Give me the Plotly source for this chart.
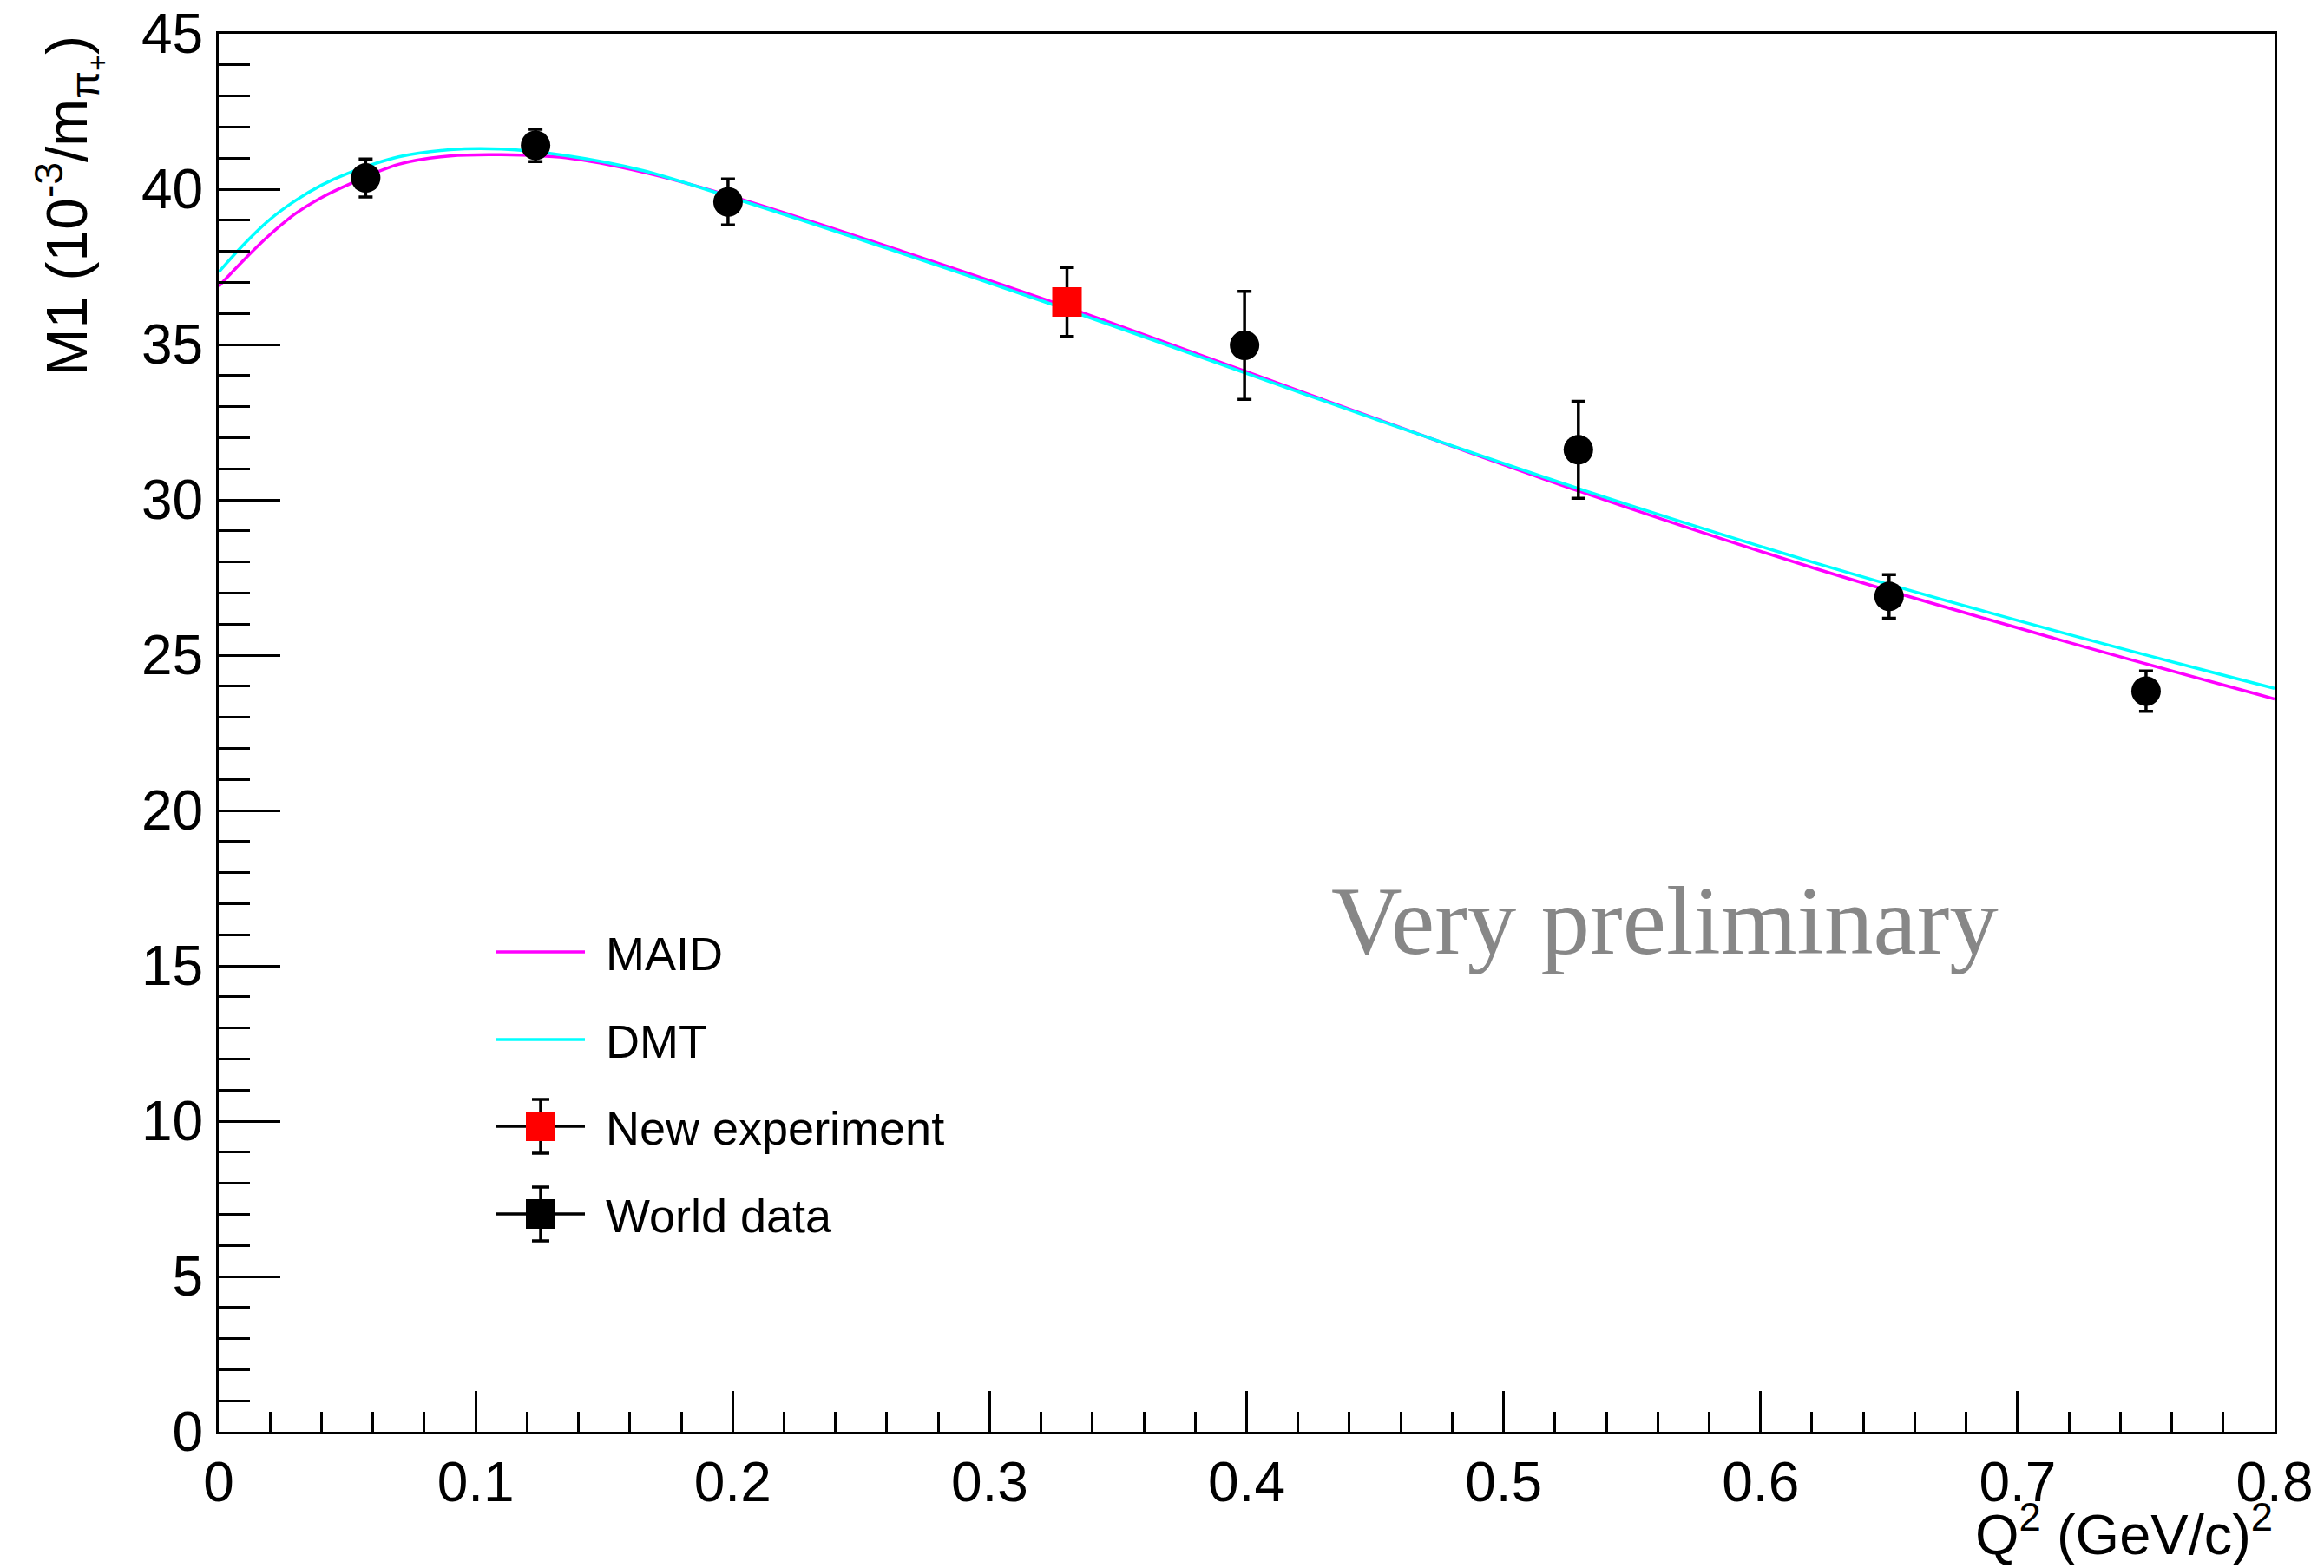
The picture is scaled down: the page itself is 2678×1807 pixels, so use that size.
import plotly.graph_objects as go

# ---- data -----------------------------------------------------------------
# World data: Q^2 in (GeV/c)^2, M1 in 10^-3/m_pi+
q2_world = [0.0572, 0.1233, 0.1982, 0.3992, 0.5291, 0.6500, 0.7500]
m1_world = [40.36, 41.41, 39.59, 34.97, 31.61, 26.89, 23.84]
err_world = [0.61, 0.52, 0.74, 1.74, 1.56, 0.70, 0.65]

# New experiment
q2_new = [0.3301]
m1_new = [36.37]
err_new = [1.11]

# Model curves (MAID, DMT)
q2_model = [0.0, 0.01, 0.02, 0.03, 0.04, 0.05, 0.07, 0.09, 0.11, 0.135,
            0.165, 0.2, 0.266, 0.325, 0.4, 0.45, 0.53, 0.62, 0.714, 0.8]
m1_maid = [36.87, 37.74, 38.54, 39.22, 39.73, 40.13, 40.80, 41.07, 41.11, 41.01,
           40.55, 39.76, 38.00, 36.35, 34.12, 32.62, 30.26, 27.82, 25.55, 23.59]
m1_dmt = [37.33, 38.24, 39.03, 39.64, 40.13, 40.50, 41.04, 41.27, 41.29, 41.08,
          40.60, 39.72, 37.93, 36.27, 34.07, 32.60, 30.34, 28.00, 25.80, 23.93]

x_ticks = [0, 0.1, 0.2, 0.3, 0.4, 0.5, 0.6, 0.7, 0.8]
x_tick_labels = ["0", "0.1", "0.2", "0.3", "0.4", "0.5", "0.6", "0.7", "0.8"]
legend_labels = ["MAID", "DMT", "New experiment", "World data"]

# ---- figure geometry (pixels) ----------------------------------------------
W, H = 2678, 1807
ML, MR, MT, MB = 252, 57, 39, 157
PW, PH = W - ML - MR, H - MT - MB

FONT = "Liberation Sans, Arial, Helvetica, sans-serif"
MAGENTA, CYAN, RED = "#ff00ff", "#00ffff", "#ff0000"


def px_x(p):
    return (p - ML) / PW


def px_y(p):
    return (H - MB - p) / PH


fig = go.Figure()

fig.add_trace(go.Scatter(x=q2_model, y=m1_maid, mode="lines",
                         line=dict(color=MAGENTA, width=3.5, shape="spline"),
                         name="MAID", showlegend=False))
fig.add_trace(go.Scatter(x=q2_model, y=m1_dmt, mode="lines",
                         line=dict(color=CYAN, width=3.5, shape="spline"),
                         name="DMT", showlegend=False))
fig.add_trace(go.Scatter(x=q2_world, y=m1_world, mode="markers",
                         marker=dict(symbol="circle", size=34, color="black"),
                         error_y=dict(type="data", array=err_world, color="black",
                                      thickness=3.5, width=8),
                         name="World data", showlegend=False))
fig.add_trace(go.Scatter(x=q2_new, y=m1_new, mode="markers",
                         marker=dict(symbol="square", size=34, color=RED),
                         error_y=dict(type="data", array=err_new, color="black",
                                      thickness=3.5, width=8),
                         name="New experiment", showlegend=False))

axis_common = dict(showgrid=False, zeroline=False, showline=True, linecolor="black",
                   linewidth=3, mirror=True, ticks="inside", tickcolor="black",
                   tickwidth=3, automargin=False,
                   tickfont=dict(family=FONT, size=64, color="black"))

fig.update_xaxes(range=[0, 0.8], tickvals=x_ticks, ticktext=x_tick_labels,
                 ticklen=47, ticklabelstandoff=0,
                 minor=dict(ticks="inside", ticklen=23, tickwidth=3,
                            tickcolor="black", dtick=0.02, showgrid=False),
                 **axis_common)
fig.update_yaxes(range=[0, 45], dtick=5, tick0=0, ticklen=71,
                 ticklabelstandoff=2,
                 minor=dict(ticks="inside", ticklen=36, tickwidth=3,
                            tickcolor="black", dtick=1, showgrid=False),
                 **axis_common)

annotations = []
# axis titles
annotations.append(dict(xref="paper", yref="paper", x=1.0, y=px_y(1721),
                        xanchor="right", yanchor="top", showarrow=False,
                        text="Q<sup>2</sup> (GeV/c)<sup>2</sup>",
                        font=dict(family=FONT, size=65, color="black")))
annotations.append(dict(xref="paper", yref="paper", x=px_x(28), y=1.0,
                        xanchor="left", yanchor="top", showarrow=False,
                        textangle=-90,
                        text="M1 (10<sup>-3</sup>/m<sub>π<sub>+</sub></sub>)",
                        font=dict(family=FONT, size=66, color="black")))
# watermark
annotations.append(dict(xref="paper", yref="paper", x=px_x(1918), y=px_y(1060),
                        xanchor="center", yanchor="middle", showarrow=False,
                        text="Very preliminary",
                        font=dict(family="Liberation Serif, DejaVu Serif, serif",
                                  size=113, color="#878787")))

# hand-drawn legend (ROOT style)
row_y = [1097, 1198, 1298, 1399]
x0_line, x1_line, x_mark, x_text = 571, 674, 623, 696
shapes = []
line_colors = [MAGENTA, CYAN]
for i, lab in enumerate(legend_labels):
    yc = row_y[i]
    annotations.append(dict(xref="paper", yref="paper", x=px_x(x_text), y=px_y(yc + 2),
                            xanchor="left", yanchor="middle", showarrow=False,
                            text=lab, font=dict(family=FONT, size=54, color="black")))
    if i < 2:
        shapes.append(dict(type="line", xref="paper", yref="paper",
                           x0=px_x(x0_line), x1=px_x(x1_line), y0=px_y(yc), y1=px_y(yc),
                           line=dict(color=line_colors[i], width=3.5)))
    else:
        fill = RED if i == 2 else "black"
        shapes.append(dict(type="line", xref="paper", yref="paper",
                           x0=px_x(x0_line), x1=px_x(x1_line), y0=px_y(yc), y1=px_y(yc),
                           line=dict(color="black", width=3.5)))
        shapes.append(dict(type="line", xref="paper", yref="paper",
                           x0=px_x(x_mark), x1=px_x(x_mark), y0=px_y(yc - 31), y1=px_y(yc + 31),
                           line=dict(color="black", width=3.5)))
        for dy in (-31, 31):
            shapes.append(dict(type="line", xref="paper", yref="paper",
                               x0=px_x(x_mark - 10), x1=px_x(x_mark + 10),
                               y0=px_y(yc + dy), y1=px_y(yc + dy),
                               line=dict(color="black", width=3.5)))
        shapes.append(dict(type="rect", xref="paper", yref="paper",
                           x0=px_x(x_mark - 17), x1=px_x(x_mark + 17),
                           y0=px_y(yc + 17), y1=px_y(yc - 17),
                           line=dict(width=0), fillcolor=fill))

fig.update_layout(width=W, height=H,
                  margin=dict(l=ML, r=MR, t=MT, b=MB, pad=0, autoexpand=False),
                  paper_bgcolor="white", plot_bgcolor="white",
                  showlegend=False, annotations=annotations, shapes=shapes)

fig.write_html("out.html")
